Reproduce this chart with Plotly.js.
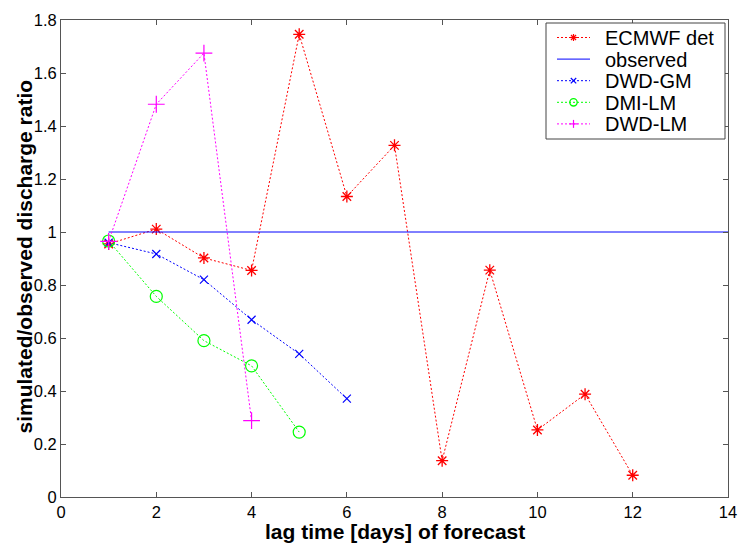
<!DOCTYPE html>
<html>
<head>
<meta charset="utf-8">
<script src="https://cdn.plot.ly/plotly-3.0.1.min.js"></script>
<style>html,body{margin:0;padding:0;background:#fff;}#chart{width:739px;height:543px;}</style>
</head>
<body>
<div id="chart"></div>
<script>
// Data
const lagEcmwf = [1, 2, 3, 4, 5, 6, 7, 8, 9, 10, 11, 12];
const ecmwfDet = [0.955, 1.011, 0.902, 0.855, 1.746, 1.134, 1.327, 0.137, 0.856, 0.253, 0.388, 0.082];
const lagObserved = [1, 14];
const observed = [1, 1];
const lagDwdGm = [1, 2, 3, 4, 5, 6];
const dwdGm = [0.96, 0.917, 0.820, 0.669, 0.540, 0.371];
const lagDmiLm = [1, 2, 3, 4, 5];
const dmiLm = [0.966, 0.757, 0.590, 0.495, 0.245];
const lagDwdLm = [1, 2, 3, 4];
const dwdLm = [0.965, 1.482, 1.675, 0.288];
const seriesNames = ['ECMWF det', 'observed', 'DWD-GM', 'DMI-LM', 'DWD-LM'];
const xTicks = [0, 2, 4, 6, 8, 10, 12, 14];
const yTicks = [0, 0.2, 0.4, 0.6, 0.8, 1, 1.2, 1.4, 1.6, 1.8];
const yTickText = ['0', '0.2', '0.4', '0.6', '0.8', '1', '1.2', '1.4', '1.6', '1.8'];
const xTitle = 'lag time [days] of forecast';
const yTitle = 'simulated/observed discharge ratio';

const RED = 'rgb(255,0,0)', BLUE = 'rgb(0,0,255)', GREEN = 'rgb(0,255,0)', MAGENTA = 'rgb(255,0,255)';
const FONT = 'Liberation Sans, Arial, sans-serif';
const dotted = '2px,2px';

const traces = [
  {x: lagEcmwf, y: ecmwfDet, name: seriesNames[0], mode: 'lines+markers',
   line: {color: RED, width: 1, dash: dotted},
   marker: {symbol: 'asterisk-open', size: 10, color: RED, line: {width: 1.3, color: RED}}},
  {x: lagObserved, y: observed, name: seriesNames[1], mode: 'lines',
   line: {color: BLUE, width: 1}},
  {x: lagDwdGm, y: dwdGm, name: seriesNames[2], mode: 'lines+markers',
   line: {color: BLUE, width: 1, dash: dotted},
   marker: {symbol: 'x-thin-open', size: 8, color: BLUE, line: {width: 1.2, color: BLUE}}},
  {x: lagDmiLm, y: dmiLm, name: seriesNames[3], mode: 'lines+markers',
   line: {color: GREEN, width: 1, dash: dotted},
   marker: {symbol: 'circle-open', size: 12, color: GREEN, line: {width: 1.2, color: GREEN}}},
  {x: lagDwdLm, y: dwdLm, name: seriesNames[4], mode: 'lines+markers',
   line: {color: MAGENTA, width: 1, dash: dotted},
   marker: {symbol: 'cross-thin-open', size: 12, color: MAGENTA, line: {width: 1.2, color: MAGENTA}}}
];

// ---- layout geometry (pixels) ----
const W = 739, H = 543;
const M = {l: 61, r: 11, t: 20, b: 46};
const PW = W - M.l - M.r, PH = H - M.t - M.b;
const px = v => (v - M.l) / PW;      // pixel x -> paper x
const py = v => (H - M.b - v) / PH;  // pixel y -> paper y

// ---- hand-built legend (MATLAB style) ----
const shapes = [];
const annotations = [];
shapes.push({type: 'rect', xref: 'paper', yref: 'paper',
  x0: px(546), x1: px(725), y0: py(139), y1: py(23),
  line: {color: '#444', width: 1}, fillcolor: '#fff', layer: 'above'});
const legColors = [RED, BLUE, BLUE, GREEN, MAGENTA];
const legDash = [dotted, 'solid', dotted, dotted, dotted];
const legSym = ['asterisk', 'none', 'x', 'circle', 'plus'];
const seg = (x0, y0, x1, y1, c) => shapes.push({type: 'line', xref: 'paper', yref: 'paper',
  x0: px(x0), y0: py(y0), x1: px(x1), y1: py(y1), line: {color: c, width: 1.2}, layer: 'above'});
seriesNames.forEach((name, i) => {
  const yc = 37.5 + 21.6 * i;
  const xc = 573.5;
  const c = legColors[i];
  shapes.push({type: 'line', xref: 'paper', yref: 'paper',
    x0: px(557), x1: px(590), y0: py(yc), y1: py(yc),
    line: {color: c, width: 1, dash: legDash[i]}, layer: 'above'});
  if (legSym[i] === 'asterisk') {
    const r = 3.5, d = 2.5;
    seg(xc - r, yc, xc + r, yc, c); seg(xc, yc - r, xc, yc + r, c);
    seg(xc - d, yc - d, xc + d, yc + d, c); seg(xc - d, yc + d, xc + d, yc - d, c);
  } else if (legSym[i] === 'x') {
    const d = 2.7;
    seg(xc - d, yc - d, xc + d, yc + d, c); seg(xc - d, yc + d, xc + d, yc - d, c);
  } else if (legSym[i] === 'plus') {
    const r = 4;
    seg(xc - r, yc, xc + r, yc, c); seg(xc, yc - r, xc, yc + r, c);
  } else if (legSym[i] === 'circle') {
    const r = 3.7;
    shapes.push({type: 'circle', xref: 'paper', yref: 'paper',
      x0: px(xc - r), x1: px(xc + r), y0: py(yc + r), y1: py(yc - r),
      line: {color: c, width: 1.3}, fillcolor: 'rgba(0,0,0,0)', layer: 'above'});
  }
  annotations.push({xref: 'paper', yref: 'paper', x: px(603), y: py(yc + 0.5),
    xanchor: 'left', yanchor: 'middle', showarrow: false, text: name,
    font: {family: FONT, size: 20, color: '#000'}});
});

// axis titles placed like the MATLAB original
annotations.push({xref: 'paper', yref: 'paper', x: px(23.5), y: py(257),
  xanchor: 'center', yanchor: 'middle', showarrow: false, textangle: -90,
  text: yTitle, font: {family: FONT, size: 21, weight: 'bold', color: '#000'}});
annotations.push({xref: 'paper', yref: 'paper', x: px(394.5), y: py(531.5),
  xanchor: 'center', yanchor: 'middle', showarrow: false,
  text: xTitle, font: {family: FONT, size: 21, weight: 'bold', color: '#000'}});

const axisCommon = {
  showgrid: false, zeroline: false, showline: true, linecolor: '#555', linewidth: 1,
  mirror: 'ticks', ticks: 'inside', ticklen: 5, tickcolor: '#555', tickwidth: 1,
  tickfont: {family: FONT, size: 16.5, color: '#000'}
};

const layout = {
  width: W, height: H,
  margin: M,
  paper_bgcolor: '#fff', plot_bgcolor: '#fff',
  font: {family: FONT, color: '#000'},
  showlegend: false,
  xaxis: Object.assign({}, axisCommon, {
    range: [0, 14], tickvals: xTicks, ticktext: xTicks.map(String)
  }),
  yaxis: Object.assign({}, axisCommon, {
    range: [0, 1.8], tickvals: yTicks, ticktext: yTickText
  }),
  shapes: shapes,
  annotations: annotations
};

Plotly.newPlot('chart', traces, layout, {displayModeBar: false, staticPlot: true});
</script>
</body>
</html>
